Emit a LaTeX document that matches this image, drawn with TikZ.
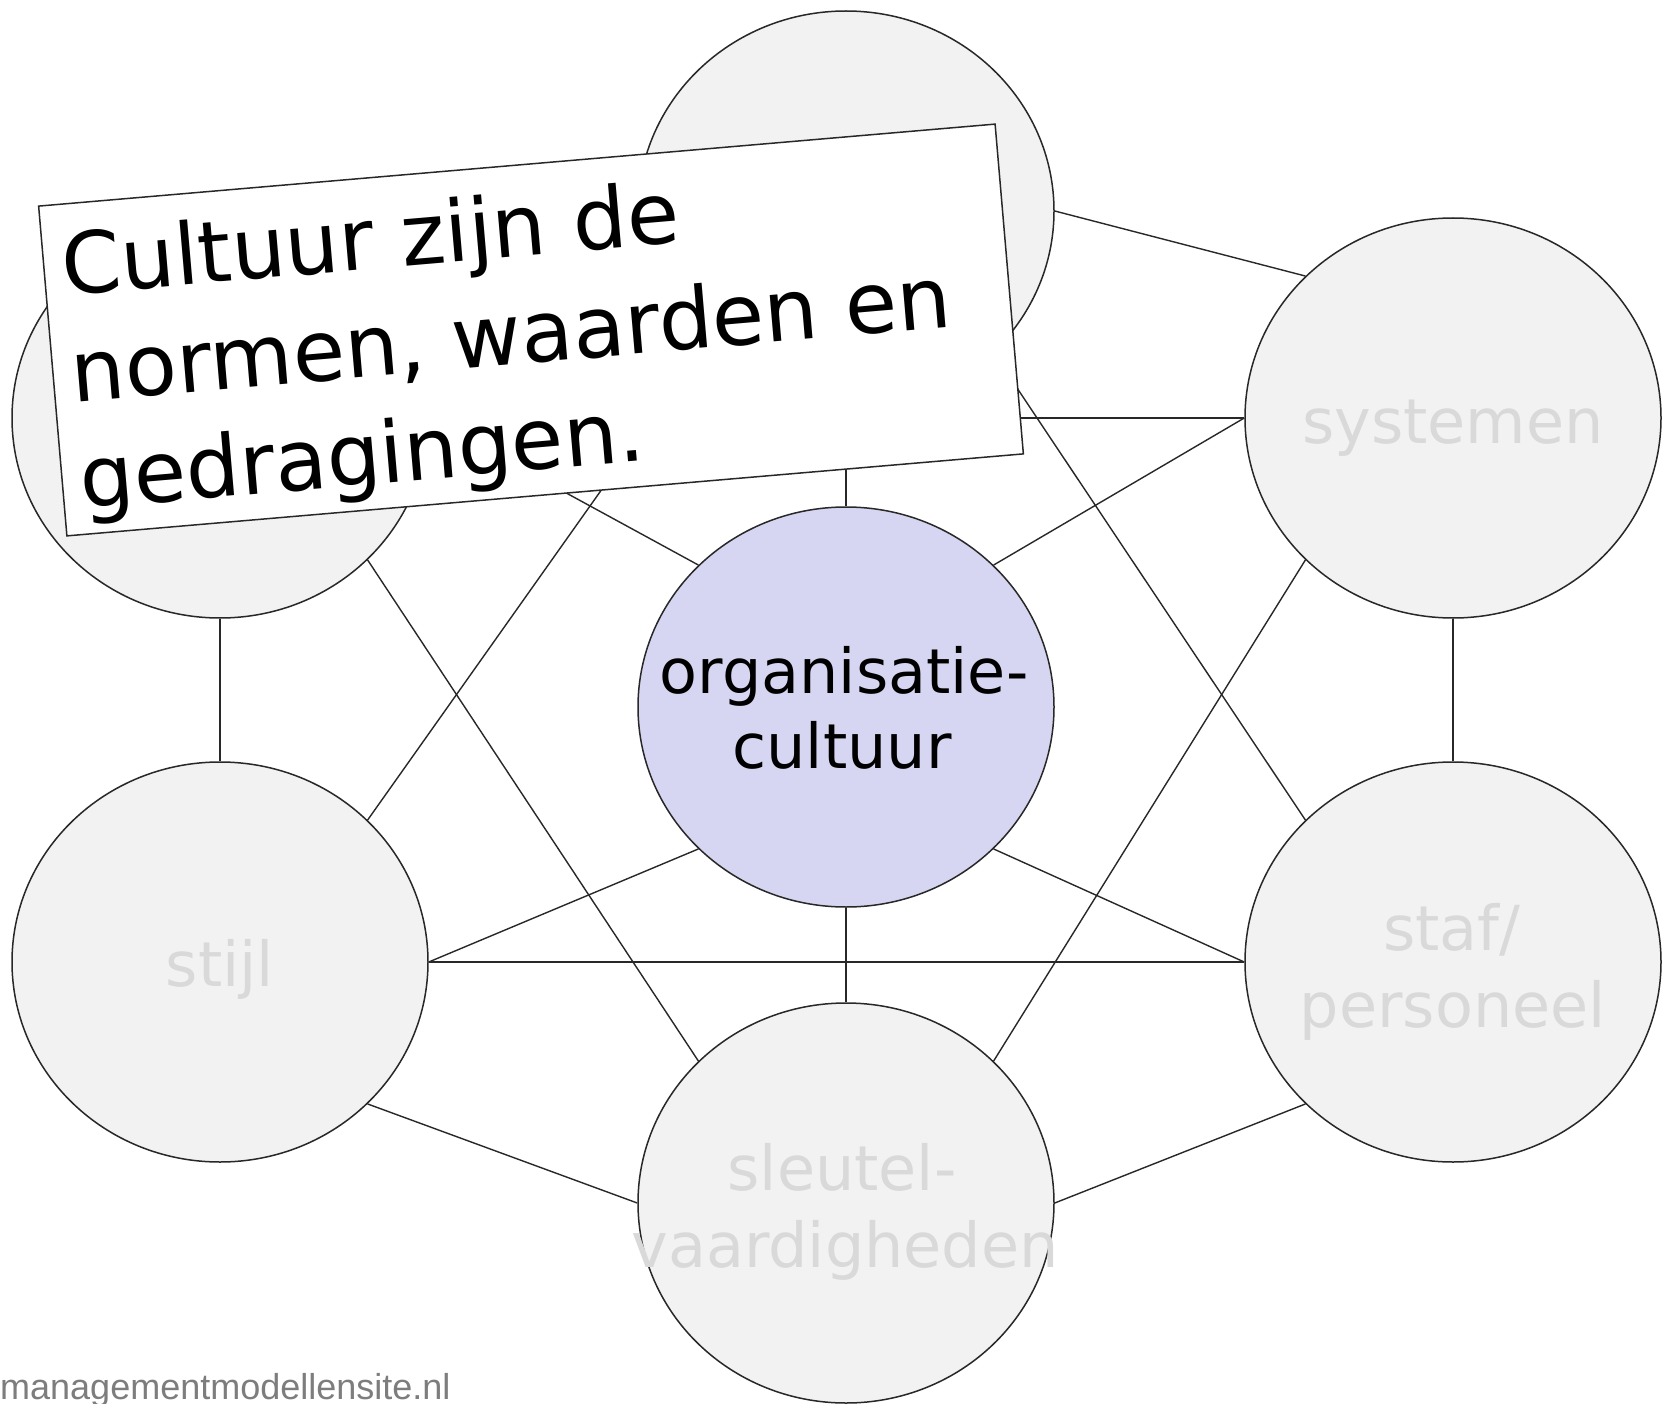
\documentclass[tikz,border=0pt]{standalone}
\usepackage{fontspec}
\setmainfont{DejaVu Sans}
\newfontfamily\wmfont{Liberation Sans}
\usetikzlibrary{shapes.geometric}
\pgfdeclarelayer{bg}
\pgfsetlayers{bg,main}
\definecolor{cgray}{RGB}{242,242,242}
\definecolor{clav}{RGB}{214,214,242}
\definecolor{lgray}{RGB}{217,217,217}
\definecolor{edgec}{RGB}{40,40,40}
\definecolor{wmgray}{RGB}{125,125,125}
\begin{document}
\begin{tikzpicture}[x=1pt,y=-1pt,
  ell/.style={ellipse, draw=edgec, line width=1.5pt, fill=cgray, minimum width=416pt, minimum height=400pt, inner sep=0pt},
  link/.style={draw=edgec, line width=1.4pt},
  glabel/.style={anchor=base, text=lgray, inner sep=0pt, font=\fontsize{62}{77}\selectfont},
  clabel/.style={anchor=base, text=black, inner sep=0pt, font=\fontsize{62}{75}\selectfont},
  boxtext/.style={anchor=base west, text=black, inner sep=0pt, font=\fontsize{85}{107}\selectfont},
  wmark/.style={anchor=base west, text=wmgray, inner sep=0pt, font=\wmfont\fontsize{36}{40}\selectfont}]
\useasboundingbox (0,0) rectangle (1665,1404);

% circles
\node[ell] (top) at (846,211) {};
\node[ell] (tl) at (220,418) {};
\node[ell] (sys) at (1453,418) {};
\node[ell, fill=clav] (cen) at (846,707) {};
\node[ell] (stijl) at (220,962) {};
\node[ell] (staf) at (1453,962) {};
\node[ell] (sleutel) at (846,1203) {};

% background and connectors
\begin{pgfonlayer}{bg}
\fill[white] (0,0) rectangle (1665,1404);
\draw[link] (top.east) -- (sys.north west);
\draw[link] (top.south) -- (cen.north);
\draw[link] (top.south east) -- (staf.north west);
\draw[link] (top.south west) -- (stijl.north east);
\draw[link] (top.west) -- (tl.north east);
\draw[link] (tl.south) -- (stijl.north);
\draw[link] (tl.south east) -- (sleutel.north west);
\draw[link] (tl.east) -- (sys.west);
\draw[link] (tl.east) -- (cen.north west);
\draw[link] (cen.north east) -- (sys.west);
\draw[link] (cen.south) -- (sleutel.north);
\draw[link] (cen.south west) -- (stijl.east);
\draw[link] (cen.south east) -- (staf.west);
\draw[link] (stijl.east) -- (staf.west);
\draw[link] (stijl.south east) -- (sleutel.west);
\draw[link] (sleutel.east) -- (staf.south west);
\draw[link] (sleutel.north east) -- (sys.south west);
\draw[link] (sys.south) -- (staf.north);
\end{pgfonlayer}

% labels
\node[glabel] (lsys) at (1453,443) {systemen};
\node[glabel] (lstijl) at (220,986) {stijl};
\node[glabel] (lstaf1) at (1452,950) {staf/};
\node[glabel] (lstaf2) at (1453,1027) {personeel};
\node[glabel] (lsl1) at (842,1190) {sleutel-};
\node[glabel] (lsl2) at (845,1267) {vaardigheden};
\node[clabel] (lcen1) at (844,693) {organisatie-};
\node[clabel] (lcen2) at (842,768) {cultuur};

% rotated text box
\begin{scope}[shift={(531,330)}, rotate=4.9, transform shape]
\node[draw=edgec, line width=1.5pt, fill=white, rectangle, minimum width=960pt, minimum height=331pt, inner sep=0pt] (box) at (0,0) {};
\node[boxtext] (t1) at (-462,-74.4) {Cultuur zijn de};
\node[boxtext] (t2) at (-462,33) {normen, waarden en};
\node[boxtext] (t3) at (-462,140) {gedragingen.};
\end{scope}

% watermark
\node[wmark] (wm) at (0,1399) {managementmodellensite.nl};
\end{tikzpicture}
\end{document}
